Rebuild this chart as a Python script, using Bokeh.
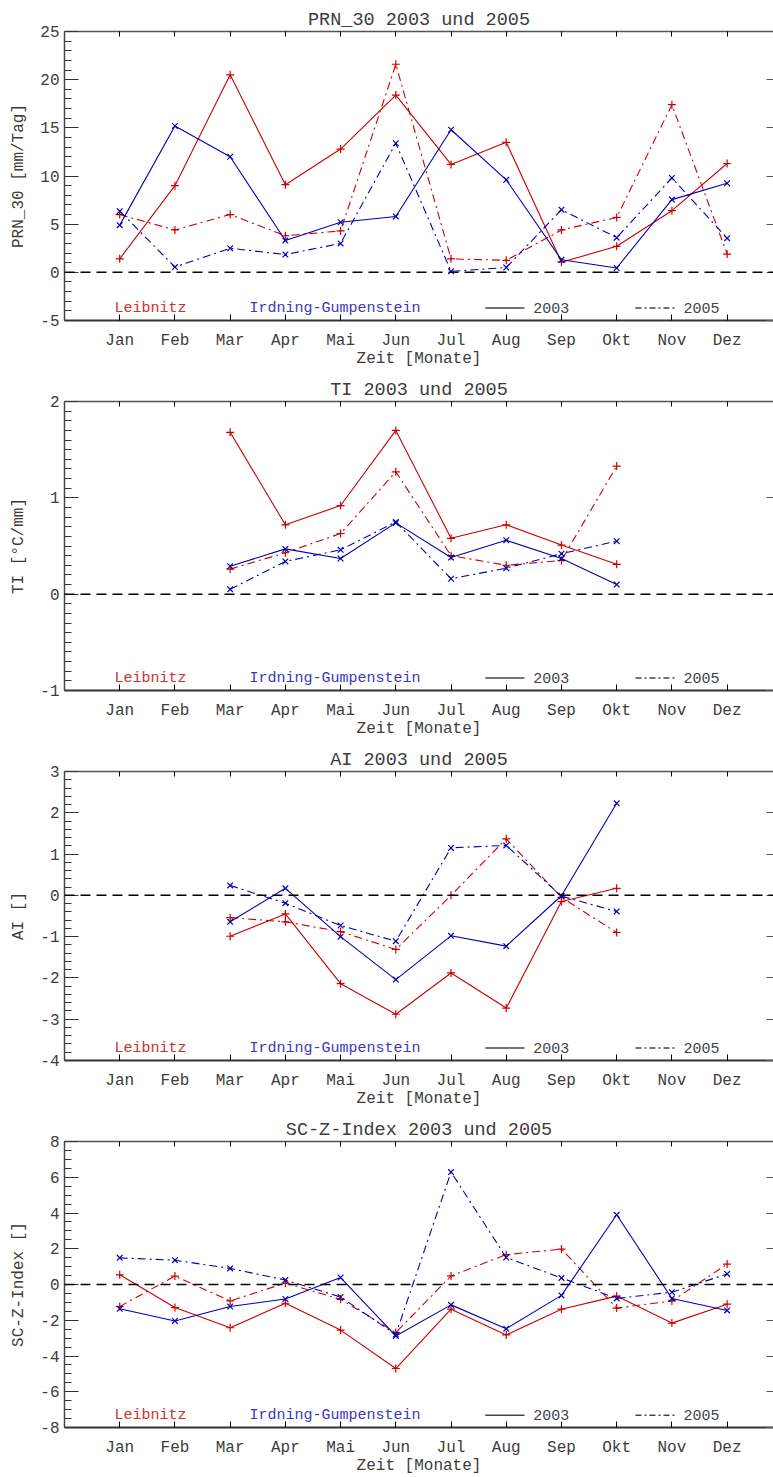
import numpy as np
from bokeh.plotting import figure
from bokeh.models import LinearAxis, FixedTicker, Span, Label, Range1d
from bokeh.layouts import column
from bokeh.embed import file_html
from bokeh.resources import INLINE

# ---------------- data ----------------
month_labels = ["Jan", "Feb", "Mar", "Apr", "Mai", "Jun", "Jul", "Aug", "Sep", "Okt", "Nov", "Dez"]
months_all = [1, 2, 3, 4, 5, 6, 7, 8, 9, 10, 11, 12]
months_mar_okt = [3, 4, 5, 6, 7, 8, 9, 10]

# PRN_30 [mm/Tag]
prn_leib_2003 = [1.4, 9.0, 20.5, 9.1, 12.8, 18.4, 11.2, 13.5, 1.05, 2.7, 6.4, 11.3]
prn_leib_2005 = [6.0, 4.4, 6.0, 3.8, 4.3, 21.6, 1.4, 1.25, 4.4, 5.7, 17.4, 1.9]
prn_irdn_2003 = [4.9, 15.2, 12.0, 3.3, 5.2, 5.8, 14.8, 9.6, 1.3, 0.45, 7.55, 9.25]
prn_irdn_2005 = [6.35, 0.55, 2.5, 1.85, 3.0, 13.4, 0.1, 0.5, 6.5, 3.6, 9.8, 3.55]

# TI [°C/mm]
ti_leib_2003 = [1.68, 0.72, 0.92, 1.70, 0.58, 0.72, 0.51, 0.31]
ti_leib_2005 = [0.26, 0.43, 0.63, 1.27, 0.40, 0.30, 0.35, 1.33]
ti_irdn_2003 = [0.29, 0.47, 0.37, 0.74, 0.38, 0.56, 0.37, 0.10]
ti_irdn_2005 = [0.05, 0.34, 0.46, 0.75, 0.16, 0.27, 0.42, 0.55]

# AI []
ai_leib_2003 = [-0.99, -0.45, -2.14, -2.88, -1.88, -2.73, -0.15, 0.17]
ai_leib_2005 = [-0.54, -0.64, -0.88, -1.31, 0.0, 1.37, -0.05, -0.90]
ai_irdn_2003 = [-0.64, 0.17, -1.0, -2.04, -0.98, -1.23, -0.01, 2.23]
ai_irdn_2005 = [0.24, -0.19, -0.73, -1.11, 1.15, 1.21, -0.02, -0.39]

# SC-Z-Index []
sc_leib_2003 = [0.54, -1.29, -2.42, -1.05, -2.55, -4.70, -1.38, -2.82, -1.38, -0.65, -2.16, -1.10]
sc_leib_2005 = [-1.23, 0.47, -0.92, 0.08, -0.83, -2.69, 0.48, 1.67, 1.98, -1.32, -0.92, 1.14]
sc_irdn_2003 = [-1.36, -2.04, -1.23, -0.81, 0.39, -2.88, -1.14, -2.47, -0.61, 3.90, -0.78, -1.45]
sc_irdn_2005 = [1.49, 1.36, 0.90, 0.25, -0.70, -2.80, 6.29, 1.51, 0.37, -0.78, -0.43, 0.59]

panels = [
    dict(title="PRN_30 2003 und 2005", ylabel="PRN_30 [mm/Tag]", yr=(-5, 25),
         major=[-5, 0, 5, 10, 15, 20, 25], minor_step=1.0, x=months_all,
         series=[prn_leib_2003, prn_leib_2005, prn_irdn_2003, prn_irdn_2005], h=370),
    dict(title="TI 2003 und 2005", ylabel="TI [°C/mm]", yr=(-1, 2),
         major=[-1, 0, 1, 2], minor_step=0.1, x=months_mar_okt,
         series=[ti_leib_2003, ti_leib_2005, ti_irdn_2003, ti_irdn_2005], h=370),
    dict(title="AI 2003 und 2005", ylabel="AI []", yr=(-4, 3),
         major=[-4, -3, -2, -1, 0, 1, 2, 3], minor_step=0.2, x=months_mar_okt,
         series=[ai_leib_2003, ai_leib_2005, ai_irdn_2003, ai_irdn_2005], h=370),
    dict(title="SC-Z-Index 2003 und 2005", ylabel="SC-Z-Index []", yr=(-8, 8),
         major=[-8, -6, -4, -2, 0, 2, 4, 6, 8], minor_step=0.5, x=months_all,
         series=[sc_leib_2003, sc_leib_2005, sc_irdn_2003, sc_irdn_2005], h=367),
]

FONT = "Liberation Mono"
TXT = "#3c3c3c"
RED = "#cc0000"
BLUE = "#0000b0"
DASHDOT = "8 4 2 4"

figs = []
for pan in panels:
    y0, y1 = pan["yr"]
    p = figure(width=773, height=pan["h"], output_backend="svg", toolbar_location=None,
               x_range=Range1d(0, 12.84), y_range=Range1d(y0, y1),
               min_border_left=64, min_border_right=0, min_border_top=31,
               min_border_bottom=pan["h"] - 31 - 292, x_axis_type=None, y_axis_type=None)
    p.outline_line_color = None
    p.background_fill_color = "white"
    p.border_fill_color = "white"

    p.title.text = pan["title"]
    p.title.align = "center"
    p.title.text_font = FONT
    p.title.text_font_size = "18.5px"
    p.title.text_font_style = "normal"
    p.title.text_color = TXT
    p.title.standoff = 2

    minor = list(np.round(np.arange(y0, y1 + 1e-9, pan["minor_step"]), 4))
    overrides = {v: str(v) for v in pan["major"]}

    # left axis
    ly = LinearAxis(ticker=FixedTicker(ticks=pan["major"], minor_ticks=minor),
                    major_label_overrides=overrides)
    ly.axis_label = pan["ylabel"]
    ly.axis_label_text_font = FONT
    ly.axis_label_text_font_size = "16px"
    ly.axis_label_text_font_style = "normal"
    ly.axis_label_text_color = TXT
    ly.axis_label_standoff = 9
    ly.major_label_text_font = FONT
    ly.major_label_text_font_size = "16px"
    ly.major_label_text_color = TXT
    ly.major_label_standoff = 5
    ly.major_tick_in = 14
    ly.major_tick_out = 0
    ly.minor_tick_in = 7
    ly.minor_tick_out = 0
    ly.axis_line_color = "#444444"
    ly.axis_line_width = 1.5
    ly.major_tick_line_color = "#333333"
    ly.minor_tick_line_color = "#333333"
    p.add_layout(ly, "left")

    # right axis (ticks only)
    ry = LinearAxis(ticker=FixedTicker(ticks=pan["major"], minor_ticks=[]))
    ry.major_label_text_font_size = "0px"
    ry.major_label_text_color = None
    ry.major_tick_in = 7
    ry.major_tick_out = 0
    ry.minor_tick_line_color = None
    ry.axis_line_color = None
    ry.major_tick_line_color = "#555555"
    p.add_layout(ry, "right")

    # bottom axis
    bx = LinearAxis(ticker=FixedTicker(ticks=months_all, minor_ticks=[]),
                    major_label_overrides={m: lab for m, lab in zip(months_all, month_labels)})
    bx.axis_label = "Zeit [Monate]"
    bx.axis_label_text_font = FONT
    bx.axis_label_text_font_size = "16px"
    bx.axis_label_text_font_style = "normal"
    bx.axis_label_text_color = TXT
    bx.axis_label_standoff = -3
    bx.major_label_text_font = FONT
    bx.major_label_text_font_size = "16px"
    bx.major_label_text_color = TXT
    bx.major_label_standoff = 11
    bx.major_tick_in = 6
    bx.major_tick_out = 0
    bx.minor_tick_line_color = None
    bx.axis_line_color = "#333333"
    bx.axis_line_width = 2
    p.add_layout(bx, "below")

    # top axis (ticks only)
    tx = LinearAxis(ticker=FixedTicker(ticks=months_all, minor_ticks=[]))
    tx.major_label_text_font_size = "0px"
    tx.major_label_text_color = None
    tx.major_label_standoff = 0
    tx.major_tick_in = 5
    tx.major_tick_out = 0
    tx.minor_tick_line_color = None
    tx.axis_line_color = "#555555"
    tx.axis_line_width = 1.5
    p.add_layout(tx, "above")

    p.add_layout(Span(location=0, dimension="width", line_color="black",
                      line_dash="10 6", line_width=1.5))

    xs = pan["x"]
    leib03, leib05, irdn03, irdn05 = pan["series"]
    p.line(xs, leib03, line_color=RED, line_width=1.1)
    p.scatter(xs, leib03, marker="cross", size=8, line_color=RED, line_width=1.2)
    p.line(xs, leib05, line_color=RED, line_width=1.1, line_dash=DASHDOT)
    p.scatter(xs, leib05, marker="cross", size=8, line_color=RED, line_width=1.2)
    p.line(xs, irdn03, line_color=BLUE, line_width=1.1)
    p.scatter(xs, irdn03, marker="x", size=8, line_color=BLUE, line_width=1.2)
    p.line(xs, irdn05, line_color=BLUE, line_width=1.1, line_dash=DASHDOT)
    p.scatter(xs, irdn05, marker="x", size=8, line_color=BLUE, line_width=1.2)

    # in-plot legend row
    yl = y0 + 0.043 * (y1 - y0)
    p.add_layout(Label(x=0.905, y=yl, text="Leibnitz", text_font=FONT, text_font_size="15px",
                       text_color="#d03030", text_baseline="middle"))
    p.add_layout(Label(x=3.35, y=yl, text="Irdning-Gumpenstein", text_font=FONT,
                       text_font_size="15px", text_color="#3838c0", text_baseline="middle"))
    p.line([7.62, 8.33], [yl, yl], line_color="#444444", line_width=1.5)
    p.add_layout(Label(x=8.49, y=yl, text="2003", text_font=FONT, text_font_size="15px",
                       text_color="#444444", text_baseline="middle"))
    p.line([10.34, 11.08], [yl, yl], line_color="#444444", line_width=1.5, line_dash="6 3 2 3")
    p.add_layout(Label(x=11.21, y=yl, text="2005", text_font=FONT, text_font_size="15px",
                       text_color="#444444", text_baseline="middle"))

    p.xgrid.visible = False
    p.ygrid.visible = False
    figs.append(p)

layout = column(*figs, spacing=0)
open("out.html", "w").write(file_html(layout, INLINE))
